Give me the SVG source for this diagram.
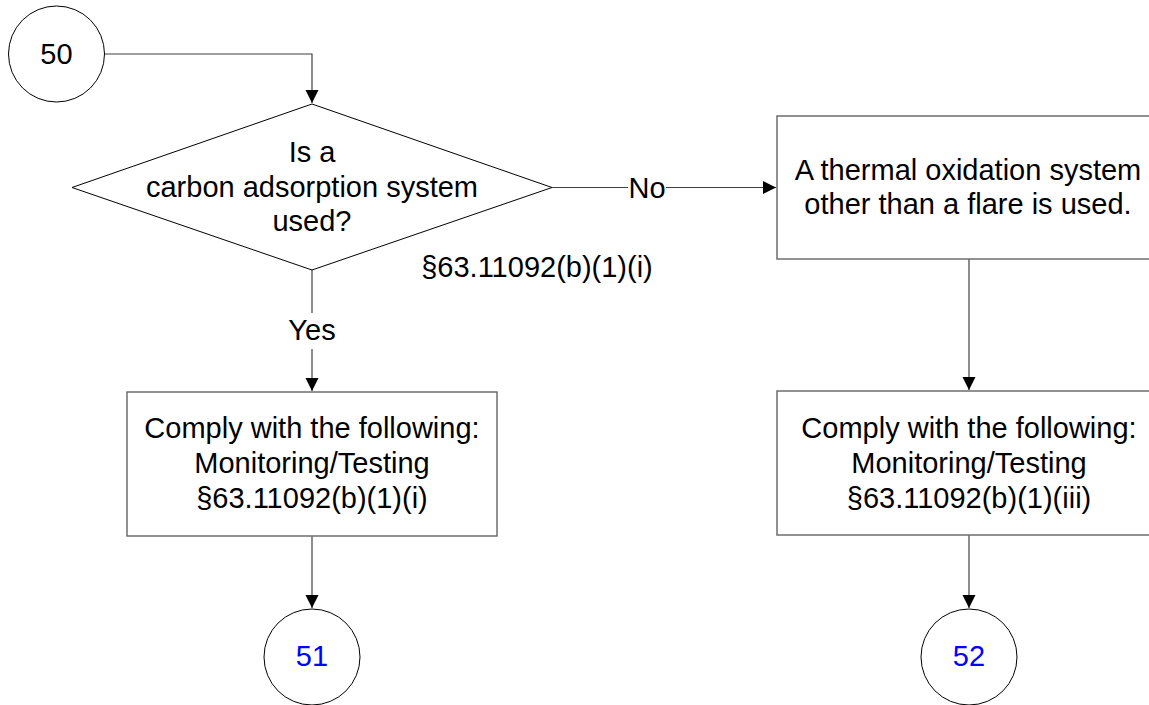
<svg xmlns="http://www.w3.org/2000/svg" width="1149" height="705" viewBox="0 0 1149 705">
<defs>
<marker id="arr" viewBox="0 0 14 14" refX="13" refY="7" markerWidth="14" markerHeight="14" markerUnits="userSpaceOnUse" orient="auto">
<path d="M0,0.5 L13,7 L0,13.5 Z" fill="#000"/>
</marker>
</defs>
<style>
text{font-family:"Liberation Sans",Arial,sans-serif;font-size:29px;fill:#000;text-anchor:middle}
.box{fill:#fff;stroke:#6e6e6e;stroke-width:1.5}
.shape{fill:#fff;stroke:#000;stroke-width:1}
.con{fill:none;stroke:#404040;stroke-width:1.2}
.link{fill:#0000ff}
.lbl{fill:#fff;stroke:none}
</style>
<rect width="1149" height="705" fill="#fff"/>
<g id="connectors">
<path class="con" d="M105,54 H312 V103" marker-end="url(#arr)"/>
<path class="con" d="M552,187.5 H776" marker-end="url(#arr)"/>
<path class="con" d="M312,270 V391" marker-end="url(#arr)"/>
<path class="con" d="M969,259 V390" marker-end="url(#arr)"/>
<path class="con" d="M312,536 V608" marker-end="url(#arr)"/>
<path class="con" d="M969,535 V608" marker-end="url(#arr)"/>
<rect class="lbl" x="628" y="175" width="38" height="26"/>
<text x="647" y="197.5">No</text>
<rect class="lbl" x="287" y="313" width="50" height="36"/>
<text x="312" y="340">Yes</text>
</g>
<g id="n50">
<circle class="shape" cx="56.5" cy="54" r="48"/>
<text x="56.5" y="64">50</text>
</g>
<g id="decision">
<polygon class="shape" points="312,104 552,187.5 312,270 72,187.5"/>
<text x="312" y="162">Is a</text>
<text x="312" y="196.5">carbon adsorption system</text>
<text x="312" y="231">used?</text>
<text x="537" y="277">§63.11092(b)(1)(i)</text>
</g>
<g id="thermal">
<rect class="box" x="777" y="116" width="390" height="143"/>
<text x="968" y="180">A thermal oxidation system</text>
<text x="968" y="214">other than a flare is used.</text>
</g>
<g id="comply1">
<rect class="box" x="127" y="392" width="370" height="144"/>
<text x="312" y="438">Comply with the following:</text>
<text x="312" y="473">Monitoring/Testing</text>
<text x="312" y="507.5">§63.11092(b)(1)(i)</text>
</g>
<g id="comply2">
<rect class="box" x="777" y="391" width="390" height="144"/>
<text x="969" y="438">Comply with the following:</text>
<text x="969" y="473">Monitoring/Testing</text>
<text x="969" y="507.5">§63.11092(b)(1)(iii)</text>
</g>
<g id="n51">
<circle class="shape" cx="312" cy="657" r="48"/>
<text class="link" x="312" y="666">51</text>
</g>
<g id="n52">
<circle class="shape" cx="969" cy="657" r="48"/>
<text class="link" x="969" y="666">52</text>
</g>
</svg>
